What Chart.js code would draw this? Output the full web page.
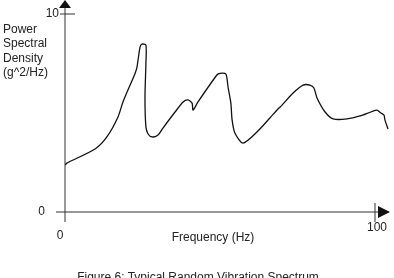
<!DOCTYPE html>
<html>
<head>
<meta charset="utf-8">
<script src="https://cdn.jsdelivr.net/npm/chart.js@4"></script>
<style>
  html, body { margin: 0; padding: 0; background: #fff; overflow: hidden; }
  #wrap { position: relative; width: 394px; height: 278px; font-family: "Liberation Sans", Arial, sans-serif; color: #222; }
  #wrap canvas { position: absolute; left: 0; top: 0; }
  .txt { position: absolute; font-size: 12px; white-space: nowrap; }
  #ytitle { left: 3px; top: 22px; line-height: 14.3px; }
  #xtitle { left: 213px; top: 230px; transform: translateX(-50%); line-height: 14px; }
  #caption { left: 198px; top: 270px; transform: translateX(-50%); line-height: 14px; }
</style>
</head>
<body>
<div id="wrap">
  <canvas id="c" width="394" height="278"></canvas>
  <div class="txt" id="ytitle">Power<br>Spectral<br>Density<br>(g^2/Hz)</div>
  <div class="txt" id="xtitle">Frequency (Hz)</div>
  <div class="txt" id="caption">Figure 6: Typical Random Vibration Spectrum</div>
</div>
<script>
// values (frequency in Hz, PSD in g^2/Hz)
const freq = [0, 0.6, 9.7, 13.5, 17.1, 18.7, 22.6, 23.2, 24.2, 24.8, 26.1, 26.1, 25.8, 26.1, 26.8, 28.1, 30, 31.6, 35.5, 38.1,
  39.7, 41, 41.3, 42.9, 49, 50, 51.9, 52.6, 53.5, 53.9, 54.8, 57.4, 61.9, 66.1, 68.4, 70, 73.5, 76.8, 79, 80.3,
  81.3, 83.9, 86.5, 91, 95.2, 100.6, 101.9, 102.9, 103.2, 104.2];
const psd = [2.37, 2.47, 3.18, 3.79, 4.8, 5.56, 7.0, 7.3, 8.33, 8.48, 8.43, 7.5, 5.8, 4.3, 3.94, 3.79, 3.89, 4.24, 5.05, 5.56,
  5.66, 5.5, 5.15, 5.56, 6.92, 7.0, 6.97, 6.3, 5.5, 4.65, 3.99, 3.48, 4.04, 4.75, 5.15, 5.4, 6.0, 6.41, 6.41, 6.26,
  5.76, 5.05, 4.7, 4.7, 4.85, 5.15, 5.0, 4.9, 4.65, 4.19];
const xTicks = [0, 100];
const yTicks = [0, 10];

// hand-drawn style axes: crossing lines, arrow heads, tick crosses
const axesPlugin = {
  id: "arrowAxes",
  afterDraw(chart) {
    const ctx = chart.ctx, xs = chart.scales.x, ys = chart.scales.y;
    const x0 = xs.getPixelForValue(xTicks[0]), x100 = xs.getPixelForValue(xTicks[1]);
    const y0 = ys.getPixelForValue(yTicks[0]), y10 = ys.getPixelForValue(yTicks[1]);
    ctx.save();
    ctx.strokeStyle = "#333";
    ctx.fillStyle = "#111";
    ctx.lineWidth = 1;
    ctx.beginPath();
    // y axis
    ctx.moveTo(x0, 6); ctx.lineTo(x0, y0 + 10);
    // x axis
    ctx.moveTo(x0 - 9, y0); ctx.lineTo(xs.right - 2, y0);
    // tick crosses
    ctx.moveTo(x0 - 5, y10); ctx.lineTo(x0 + 10, y10);
    ctx.moveTo(x100, y0 - 9); ctx.lineTo(x100, y0 + 10);
    ctx.stroke();
    // arrow heads
    ctx.beginPath();
    ctx.moveTo(x0, 0); ctx.lineTo(x0 - 6, 8); ctx.lineTo(x0 + 6, 8); ctx.closePath();
    ctx.fill();
    ctx.beginPath();
    ctx.moveTo(390, y0); ctx.lineTo(378, y0 - 6); ctx.lineTo(378, y0 + 6); ctx.closePath();
    ctx.fill();
    // tick labels
    ctx.fillStyle = "#222";
    ctx.font = '12px "Liberation Sans", Arial, sans-serif';
    ctx.textBaseline = "middle";
    ctx.textAlign = "right";
    ctx.fillText(String(yTicks[1]), x0 - 6, y10);
    ctx.fillText(String(yTicks[0]), x0 - 20, y0);
    ctx.textAlign = "center";
    ctx.fillText(String(xTicks[0]), x0 - 5, y0 + 24);
    ctx.fillText(String(xTicks[1]), x100 + 2, y0 + 16);
    ctx.restore();
  }
};

new Chart(document.getElementById("c"), {
  type: "line",
  data: {
    datasets: [{
      data: freq.map((f, i) => ({ x: f, y: psd[i] })),
      borderColor: "#111",
      borderWidth: 1.3,
      pointRadius: 0,
      tension: 0.25,
      fill: false
    }]
  },
  options: {
    responsive: false,
    animation: false,
    layout: { padding: { left: 65, right: 3.5, top: 14, bottom: 66 } },
    plugins: { legend: { display: false }, tooltip: { enabled: false } },
    scales: {
      x: { type: "linear", min: 0, max: 105, display: false },
      y: { type: "linear", min: 0, max: 10, display: false }
    }
  },
  plugins: [axesPlugin]
});
</script>
</body>
</html>
